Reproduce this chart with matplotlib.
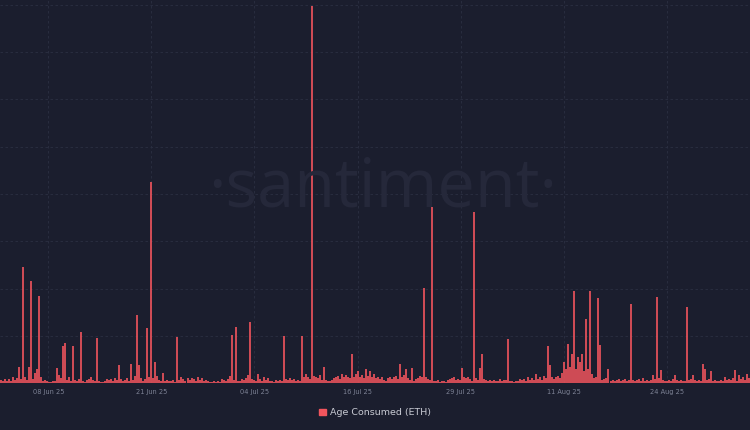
import matplotlib
matplotlib.use("Agg")
import matplotlib.pyplot as plt
import pandas as pd

# 6-hourly Age Consumed (ETH), arbitrary units (1 unit = one grid step)
# one row per day, starting 2 Jun 2025 12:00
series_start = "2025-06-02 12:00"
age_consumed = [
    0.06, 0.04, 0.09, 0.05,
    0.08, 0.05, 0.12, 0.07,
    0.10, 0.35, 0.08, 2.45,
    0.12, 0.06, 0.34, 2.15,
    0.09, 0.22, 0.30, 1.84,
    0.14, 0.05, 0.07, 0.04,
    0.03, 0.02, 0.05, 0.04,
    0.32, 0.18, 0.10, 0.79,
    0.84, 0.07, 0.12, 0.05,
    0.79, 0.06, 0.04, 0.08,
    1.08, 0.05, 0.03, 0.06,
    0.09, 0.12, 0.06, 0.04,
    0.95, 0.05, 0.03, 0.02,
    0.04, 0.08, 0.06, 0.09,
    0.05, 0.10, 0.07, 0.38,
    0.08, 0.04, 0.06, 0.11,
    0.05, 0.40, 0.06, 0.15,
    1.45, 0.38, 0.10, 0.05,
    0.08, 1.16, 0.12, 4.26,
    0.10, 0.45, 0.16, 0.06,
    0.05, 0.22, 0.04, 0.06,
    0.04, 0.05, 0.07, 0.03,
    0.97, 0.06, 0.12, 0.08,
    0.04, 0.10, 0.07, 0.11,
    0.09, 0.05, 0.12, 0.06,
    0.10, 0.04, 0.07, 0.05,
    0.03, 0.02, 0.04, 0.03,
    0.05, 0.03, 0.08, 0.06,
    0.04, 0.09, 0.15, 1.02,
    0.07, 1.18, 0.05, 0.04,
    0.08, 0.06, 0.10, 0.18,
    1.30, 0.09, 0.07, 0.05,
    0.20, 0.08, 0.05, 0.12,
    0.06, 0.10, 0.04, 0.05,
    0.03, 0.06, 0.04, 0.07,
    0.05, 0.99, 0.08, 0.06,
    0.10, 0.07, 0.09, 0.05,
    0.06, 0.04, 0.99, 0.12,
    0.20, 0.14, 0.08, 7.98,
    0.15, 0.12, 0.10, 0.18,
    0.07, 0.34, 0.06, 0.05,
    0.04, 0.06, 0.10, 0.13,
    0.16, 0.09, 0.20, 0.12,
    0.18, 0.14, 0.10, 0.62,
    0.12, 0.20, 0.26, 0.14,
    0.18, 0.10, 0.30, 0.16,
    0.26, 0.12, 0.20, 0.10,
    0.14, 0.08, 0.12, 0.06,
    0.05, 0.10, 0.13, 0.08,
    0.12, 0.16, 0.09, 0.40,
    0.14, 0.18, 0.30, 0.10,
    0.06, 0.32, 0.05, 0.08,
    0.10, 0.15, 0.14, 2.02,
    0.12, 0.09, 0.06, 3.72,
    0.05, 0.04, 0.06, 0.03,
    0.04, 0.05, 0.03, 0.06,
    0.08, 0.10, 0.12, 0.07,
    0.09, 0.06, 0.32, 0.14,
    0.10, 0.12, 0.08, 0.05,
    3.62, 0.10, 0.07, 0.32,
    0.62, 0.08, 0.06, 0.05,
    0.06, 0.04, 0.07, 0.05,
    0.05, 0.08, 0.04, 0.06,
    0.06, 0.93, 0.05, 0.04,
    0.03, 0.04, 0.05, 0.08,
    0.06, 0.09, 0.05, 0.12,
    0.07, 0.10, 0.06, 0.19,
    0.08, 0.12, 0.06, 0.15,
    0.10, 0.79, 0.38, 0.14,
    0.08, 0.12, 0.16, 0.10,
    0.22, 0.45, 0.30, 0.83,
    0.35, 0.62, 1.94, 0.30,
    0.56, 0.45, 0.62, 0.25,
    1.35, 0.30, 1.94, 0.20,
    0.10, 0.12, 1.80, 0.80,
    0.06, 0.08, 0.10, 0.29,
    0.05, 0.07, 0.04, 0.06,
    0.08, 0.05, 0.06, 0.09,
    0.05, 0.07, 1.68, 0.06,
    0.04, 0.06, 0.08, 0.05,
    0.10, 0.05, 0.07, 0.04,
    0.06, 0.18, 0.08, 1.82,
    0.10, 0.28, 0.06, 0.05,
    0.04, 0.07, 0.05, 0.08,
    0.18, 0.06, 0.05, 0.07,
    0.05, 0.04, 1.61, 0.06,
    0.08, 0.18, 0.06, 0.05,
    0.07, 0.05, 0.40, 0.30,
    0.06, 0.08, 0.25, 0.05,
    0.06, 0.04, 0.05, 0.07,
    0.05, 0.14, 0.06, 0.08,
    0.07, 0.10, 0.28, 0.05,
    0.18, 0.08, 0.12, 0.06,
    0.20, 0.10, 0.05, 0.08,
]

tick_labels = ["08 Jun 25", "21 Jun 25", "04 Jul 25", "16 Jul 25",
               "29 Jul 25", "11 Aug 25", "24 Aug 25"]
tick_start = "2025-06-08 09:36"
tick_step_days = 12.85
x_min = "2025-06-02 08:50"
x_max = "2025-09-03 21:30"

BG = "#1b1e2e"
RED = "#f2555d"
GRID = "#2b2f42"

times = pd.date_range(series_start, periods=len(age_consumed), freq="6h")
ticks = [pd.Timestamp(tick_start) + pd.Timedelta(days=tick_step_days * k)
         for k in range(len(tick_labels))]

fig = plt.figure(figsize=(7.5, 4.3), dpi=100, facecolor=BG)
ax = fig.add_axes([0, 0.109, 1, 0.891])
ax.set_facecolor(BG)

# watermark
fig.text(0.51, 0.52, "\u00b7santiment\u00b7", fontsize=48, color="#25283a",
         ha="center", va="baseline", family="Open Sans", zorder=0)

# thin bars, one per 6h
ax.vlines(times, 0, age_consumed, color=RED, linewidth=1.2, zorder=3)

ax.set_xlim(pd.Timestamp(x_min), pd.Timestamp(x_max))
ax.set_ylim(0, 8.1)
ax.set_xticks(ticks)
ax.set_xticklabels(tick_labels)
ax.set_yticks(range(1, 9))
ax.tick_params(axis="x", length=0, pad=4, labelsize=4.8, labelcolor="#7d8295")
ax.tick_params(axis="y", left=False, labelleft=False)
ax.grid(True, color=GRID, linestyle=(0, (3, 3)), linewidth=0.6, zorder=1)
for s in ax.spines.values():
    s.set_visible(False)

# legend
handle = plt.Rectangle((0, 0), 1, 1, color=RED)
fig.legend([handle], ["Age Consumed (ETH)"], loc="center",
           bbox_to_anchor=(0.5, 0.04), frameon=False, fontsize=6.8,
           labelcolor="#c8cad3", handlelength=0.7, handleheight=0.7,
           handletextpad=0.4)

fig.savefig("out.png", dpi=100, facecolor=BG)
